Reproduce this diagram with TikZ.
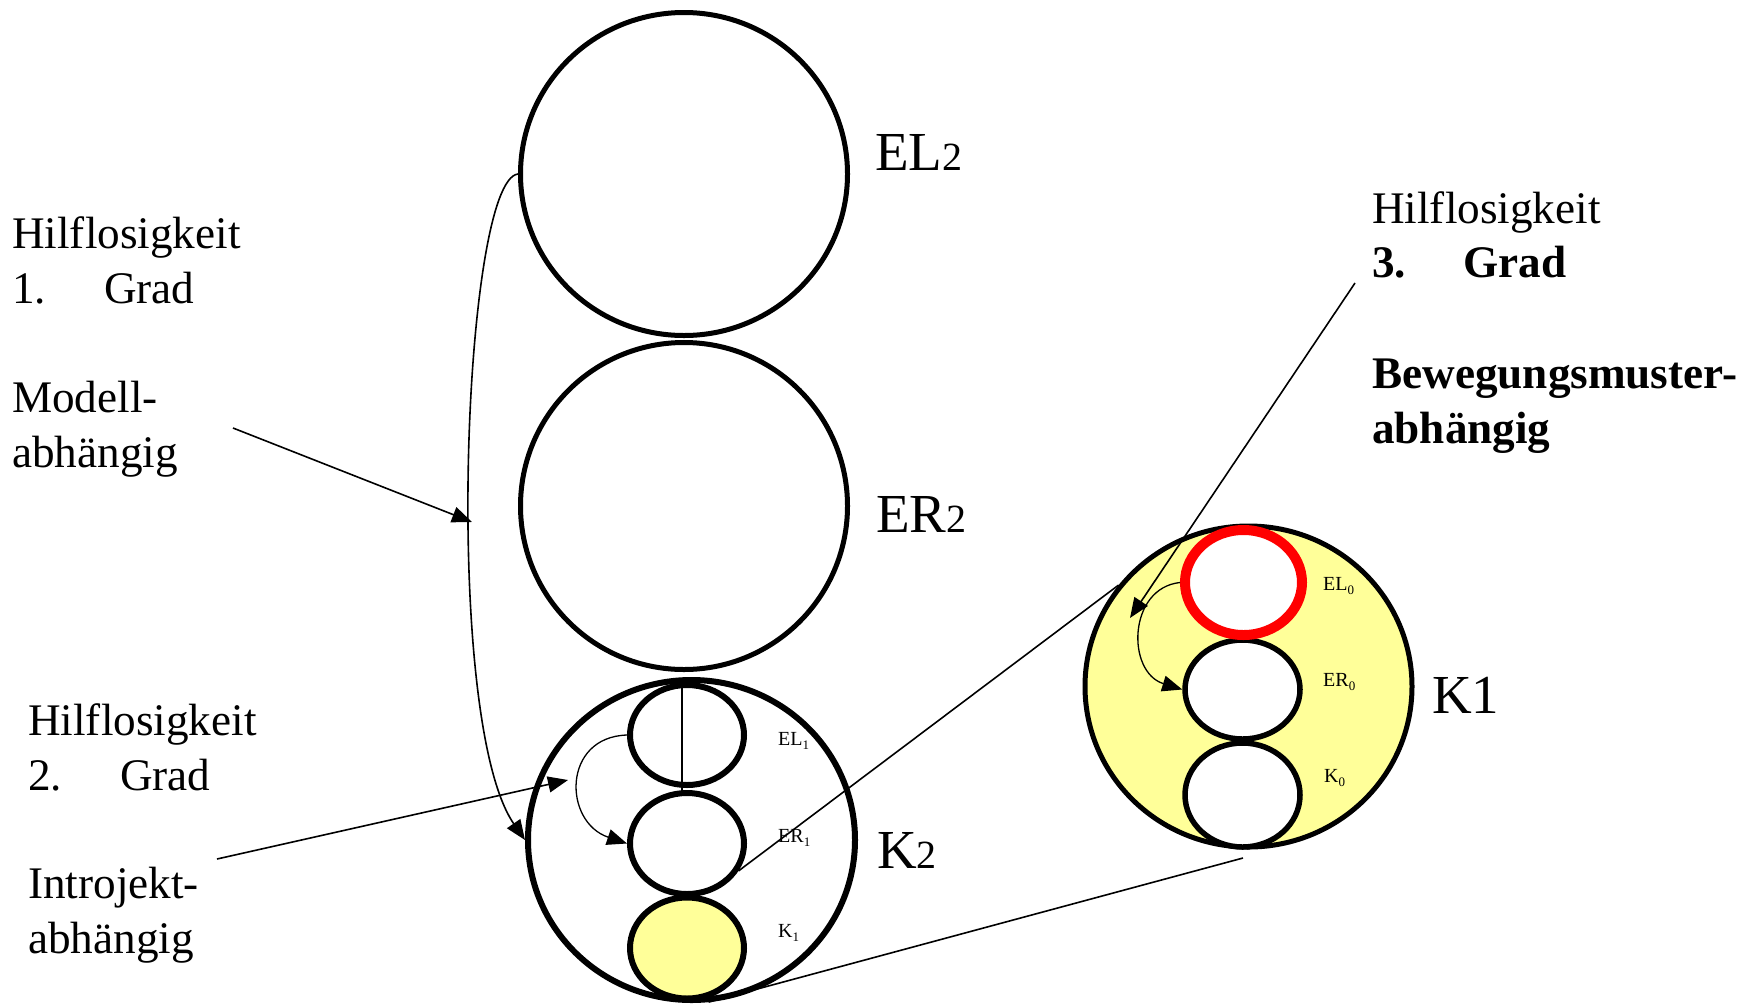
\documentclass[tikz,border=0pt]{standalone}
\usepackage{fontspec}
\setmainfont{Liberation Serif}
\usetikzlibrary{shapes.geometric,arrows.meta}
\definecolor{paleyellow}{HTML}{FFFF99}
\definecolor{ringred}{HTML}{FF0000}
\begin{document}
\begin{tikzpicture}[x=1pt,y=-1pt,
  bigcirc/.style={draw, ellipse, line width=5pt, inner sep=0pt, fill=white},
  smallcirc/.style={draw, ellipse, line width=6pt, inner sep=0pt, fill=white},
  conn/.style={line width=1.6pt},
  thinconn/.style={line width=1.3pt},
  tipped/.style={-{Triangle[length=20pt,width=16pt]}},
  lbl/.style={anchor=base west, inner sep=0pt, font=\fontsize{45.2}{48}\selectfont},
  blbl/.style={lbl, font=\fontsize{45.2}{48}\selectfont\bfseries},
  biglbl/.style={anchor=base west, inner sep=0pt, font=\fontsize{55}{60}\selectfont},
  smalllbl/.style={anchor=base west, inner sep=0pt, font=\fontsize{20}{22}\selectfont}
]
\useasboundingbox (0,0) rectangle (1745,1005);

% --- big upper circles
\node[bigcirc, minimum width=327pt, minimum height=323pt] (EL2) at (684,174) {};
\node[bigcirc, minimum width=327pt, minimum height=327pt] (ER2) at (684,506) {};
\node[bigcirc, line width=6pt, minimum width=327pt, minimum height=320pt] (K2) at (691.5,840) {};

% --- inner circles of K2
\node[smallcirc, minimum width=114pt, minimum height=100pt] (EL1) at (687,735) {};
\node[smallcirc, minimum width=114pt, minimum height=101pt] (ER1) at (687,843.5) {};
\node[smallcirc, fill=paleyellow, minimum width=114pt, minimum height=101pt] (K1s) at (687,948) {};

% --- K1 enlarged
\node[bigcirc, fill=paleyellow, minimum width=327pt, minimum height=321pt] (K1b) at (1248.5,686.5) {};
\node[smallcirc, line width=5.5pt, minimum width=115pt, minimum height=99pt] (ER0) at (1242.5,689.5) {};
\node[smallcirc, line width=5.5pt, minimum width=115pt, minimum height=104pt] (K0) at (1242.5,795) {};
\node[smallcirc, draw=ringred, line width=10pt, minimum width=117pt, minimum height=105pt] (EL0) at (1243.5,582.5) {};

% --- labels of circles
\node[biglbl] (lEL2) at (875,170) {EL{\fontsize{40}{44}\selectfont 2}};
\node[biglbl] (lER2) at (876,532) {ER{\fontsize{40}{44}\selectfont 2}};
\node[biglbl] (lK2) at (877,868) {K{\fontsize{40}{44}\selectfont 2}};
\node[biglbl] (lK1) at (1432,713) {K1};

\node[smalllbl] (lEL1) at (778,745) {EL\raisebox{-4pt}{\fontsize{13}{14}\selectfont 1}};
\node[smalllbl] (lER1) at (778,842) {ER\raisebox{-4pt}{\fontsize{13}{14}\selectfont 1}};
\node[smalllbl] (lK1s) at (778,937) {K\raisebox{-4pt}{\fontsize{13}{14}\selectfont 1}};
\node[smalllbl] (lEL0) at (1323,590) {EL\raisebox{-4pt}{\fontsize{13}{14}\selectfont 0}};
\node[smalllbl] (lER0) at (1323,686) {ER\raisebox{-4pt}{\fontsize{13}{14}\selectfont 0}};
\node[smalllbl] (lK0) at (1324,782) {K\raisebox{-4pt}{\fontsize{13}{14}\selectfont 0}};

% --- left texts
\node[lbl] (h1) at (12,248) {Hilflosigkeit};
\node[lbl] (n1) at (12,303) {1.};
\node[lbl] (g1) at (104,303) {Grad};
\node[lbl] (m1) at (12,412) {Modell-};
\node[lbl] (m2) at (12,467) {abhängig};

\node[lbl] (h2) at (28,735) {Hilflosigkeit};
\node[lbl] (n2) at (28,790) {2.};
\node[lbl] (g2) at (120,790) {Grad};
\node[lbl] (i1) at (28,898) {Introjekt-};
\node[lbl] (i2) at (28,953) {abhängig};

% --- right texts
\node[lbl] (h3) at (1372,223) {Hilflosigkeit};
\node[blbl] (n3) at (1372,277) {3.};
\node[blbl] (g3) at (1463,277) {Grad};
\node[blbl] (b1) at (1372,388) {Bewegungsmuster-};
\node[blbl] (b2) at (1372,443) {abhängig};

% --- connector end points
\coordinate (mStart) at (233,428);
\coordinate (mTip) at (472,522);
\coordinate (iStart) at (217,859);
\coordinate (iTip) at (568,780);
\coordinate (gStart) at (1355,283);
\coordinate (gTip) at (1130,618);
\coordinate (vTop) at (682,685);
\coordinate (vBot) at (682,795);
\coordinate (kEnd) at (1243,858);

% --- connectors
\draw[conn] (vTop) -- (vBot);
\draw[conn, tipped] (EL2.west) .. controls (463,180) and (442,720) .. (K2.west);
\draw[conn, tipped] (mStart) -- (mTip);
\draw[conn, tipped] (iStart) -- (iTip);
\draw[thinconn, tipped] (EL1.west) .. controls (562,737) and (563,822) .. (ER1.west);
\draw[thinconn, tipped] (EL0.west) .. controls (1128,588) and (1126,672) .. (ER0.west);
\draw[conn, tipped] (gStart) -- (gTip);
\draw[conn] (ER1.-28) -- (K1b.142);
\draw[conn] (K2.-84) -- (kEnd);
\end{tikzpicture}
\end{document}
